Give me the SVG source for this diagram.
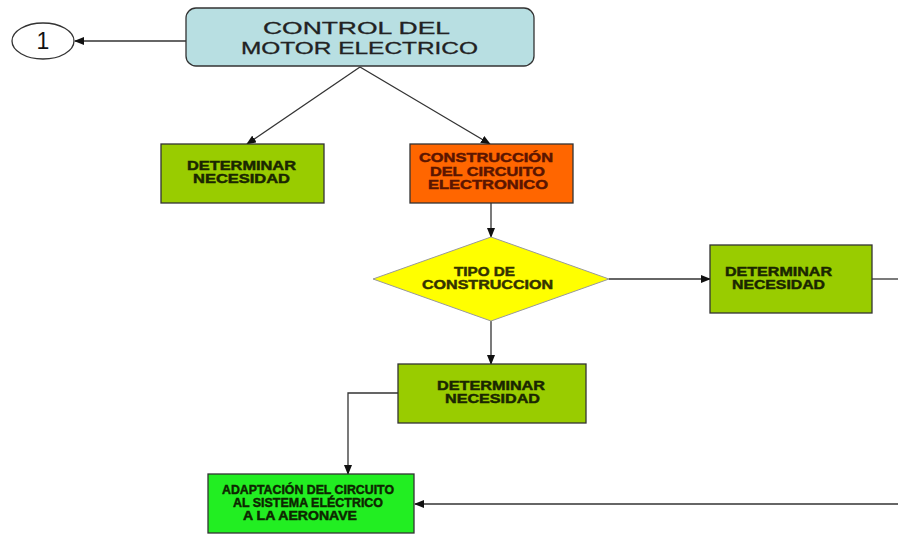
<svg xmlns="http://www.w3.org/2000/svg" width="898" height="534" viewBox="0 0 898 534">
<defs>
<marker id="ah" markerWidth="10" markerHeight="8" refX="9" refY="4" orient="auto" markerUnits="userSpaceOnUse">
<path d="M0,0 L10,4 L0,8 z" fill="#111"/>
</marker>
<style>
.edge{fill:none;stroke:#333;stroke-width:1.3}
.box{stroke:#333;stroke-width:1.3}
.t{font-family:"Liberation Sans",Arial,sans-serif;font-weight:bold;font-size:12.5px;stroke-width:0.45px}
.big{font-family:"Liberation Sans",Arial,sans-serif;font-size:16.5px;fill:#222;stroke:#222;stroke-width:0.3px}
</style>
</defs>
<rect width="898" height="534" fill="#fff"/>
<g id="connectors">
<path class="edge" d="M186,41 L75,41" marker-end="url(#ah)"/>
<path class="edge" d="M360,67 L247,144" marker-end="url(#ah)"/>
<path class="edge" d="M360,67 L490,144" marker-end="url(#ah)"/>
<path class="edge" d="M491,203 L491,237" marker-end="url(#ah)"/>
<path class="edge" d="M609,279 L710,279" marker-end="url(#ah)"/>
<path class="edge" d="M872,279 L898,279"/>
<path class="edge" d="M491,321 L491,364" marker-end="url(#ah)"/>
<path class="edge" d="M398,393 L348,393 L348,474" marker-end="url(#ah)"/>
<path class="edge" d="M898,504 L415,504" marker-end="url(#ah)"/>
</g>
<g id="node-1">
<ellipse cx="43" cy="41" rx="31" ry="18" fill="#fff" stroke="#333" stroke-width="1.3"/>
<text x="43" y="49" text-anchor="middle" font-family="Liberation Sans, Arial, sans-serif" font-size="23" fill="#111">1</text>
</g>
<g id="node-control">
<rect class="box" x="186" y="8" width="348" height="58" rx="10" fill="#b8dfe2" stroke="#666"/>
<text class="big" x="263" y="34" textLength="187" lengthAdjust="spacingAndGlyphs">CONTROL  DEL</text>
<text class="big" x="241" y="54" textLength="237" lengthAdjust="spacingAndGlyphs">MOTOR ELECTRICO</text>
</g>
<g id="node-necesidad1">
<rect class="box" x="161" y="144" width="163" height="59" fill="#99cc00"/>
<text class="t" fill="#1a2600" stroke="#1a2600" x="187" y="170" textLength="109" lengthAdjust="spacingAndGlyphs">DETERMINAR</text>
<text class="t" fill="#1a2600" stroke="#1a2600" x="193" y="183" textLength="97" lengthAdjust="spacingAndGlyphs">NECESIDAD</text>
</g>
<g id="node-construccion">
<rect class="box" x="410" y="144" width="163" height="59" fill="#ff6600"/>
<text class="t" fill="#5a1500" stroke="#5a1500" x="419" y="162" textLength="134" lengthAdjust="spacingAndGlyphs">CONSTRUCCIÓN</text>
<text class="t" fill="#5a1500" stroke="#5a1500" x="430" y="176" textLength="115" lengthAdjust="spacingAndGlyphs">DEL CIRCUITO</text>
<text class="t" fill="#5a1500" stroke="#5a1500" x="428" y="189" textLength="120" lengthAdjust="spacingAndGlyphs">ELECTRONICO</text>
</g>
<g id="node-tipo">
<polygon points="491,237 609,279 491,321 373,279" fill="#ffff00" stroke="#999" stroke-width="1"/>
<text class="t" fill="#333300" stroke="#333300" x="454" y="276" textLength="61" lengthAdjust="spacingAndGlyphs">TIPO DE</text>
<text class="t" fill="#333300" stroke="#333300" x="422" y="289" textLength="131" lengthAdjust="spacingAndGlyphs">CONSTRUCCION</text>
</g>
<g id="node-necesidad2">
<rect class="box" x="710" y="245" width="162" height="68" fill="#99cc00"/>
<text class="t" fill="#1a2600" stroke="#1a2600" x="725" y="276" textLength="107" lengthAdjust="spacingAndGlyphs">DETERMINAR</text>
<text class="t" fill="#1a2600" stroke="#1a2600" x="732" y="289" textLength="93" lengthAdjust="spacingAndGlyphs">NECESIDAD</text>
</g>
<g id="node-necesidad3">
<rect class="box" x="398" y="364" width="188" height="59" fill="#99cc00"/>
<text class="t" fill="#1a2600" stroke="#1a2600" x="437" y="390" textLength="108" lengthAdjust="spacingAndGlyphs">DETERMINAR</text>
<text class="t" fill="#1a2600" stroke="#1a2600" x="445" y="403" textLength="95" lengthAdjust="spacingAndGlyphs">NECESIDAD</text>
</g>
<g id="node-adaptacion">
<rect class="box" x="208" y="474" width="206" height="59" fill="#22ee22"/>
<text class="t" fill="#0d2600" stroke="#0d2600" x="222" y="494" textLength="172" lengthAdjust="spacingAndGlyphs">ADAPTACIÓN DEL CIRCUITO</text>
<text class="t" fill="#0d2600" stroke="#0d2600" x="233" y="507" textLength="150" lengthAdjust="spacingAndGlyphs">AL SISTEMA ELÉCTRICO</text>
<text class="t" fill="#0d2600" stroke="#0d2600" x="243" y="520" textLength="114" lengthAdjust="spacingAndGlyphs">A LA AERONAVE</text>
</g>
</svg>
